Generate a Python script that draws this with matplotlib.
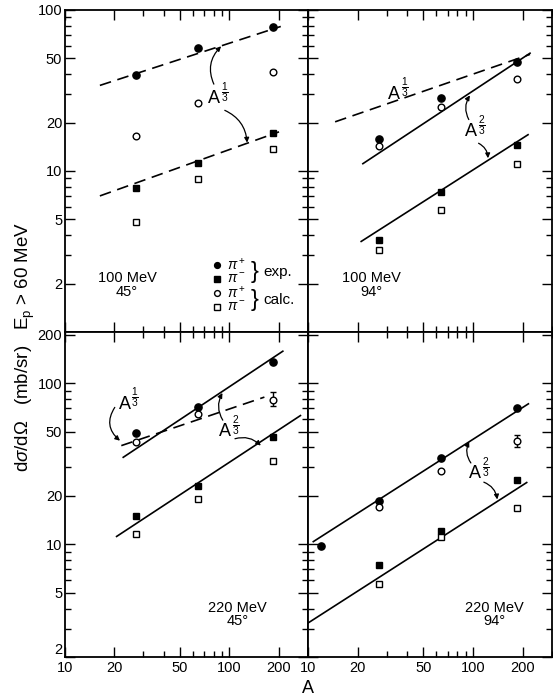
import numpy as np
import matplotlib
matplotlib.use("Agg")
import matplotlib.pyplot as plt
from matplotlib.ticker import FixedLocator, NullFormatter, FixedFormatter

plt.rcParams['font.family'] = ['Liberation Sans', 'DejaVu Sans']
plt.rcParams['mathtext.fontset'] = 'custom'
plt.rcParams['mathtext.rm'] = 'Liberation Sans'
plt.rcParams['mathtext.it'] = 'Liberation Sans:italic'

# masy jader tarczy
A_TGT = [27, 64, 184]
A_TGT_C = [12, 27, 64, 184]

# 100 MeV, 45 st.
p1_pip_exp = [39.3, 57.9, 78.0]
p1_pim_exp = [7.8, 11.2, 17.3]
p1_pip_calc = [16.5, 26.6, 41.0]
p1_pim_calc = [4.8, 8.9, 13.7]

# 100 MeV, 94 st.
p2_pip_exp = [15.8, 28.2, 47.3]
p2_pim_exp = [3.7, 7.4, 14.5]
p2_pip_calc = [14.3, 25.1, 37.0]
p2_pim_calc = [3.25, 5.7, 11.1]

# 220 MeV, 45 st.
p3_pip_exp = [48.9, 71.4, 135.0]
p3_pim_exp = [15.1, 23.0, 46.4]
p3_pip_calc = [42.9, 64.4, 78.4]
p3_pim_calc = [11.6, 19.1, 33.0]
p3_calc_err_lo = [0, 0, 6.0]
p3_calc_err_hi = [0, 0, 9.6]

# 220 MeV, 94 st. (pierwszy punkt dla C, tylko exp.)
p4_pip_exp = [9.8, 18.5, 34.5, 69.7]
p4_pim_exp = [7.4, 12.1, 25.0]
p4_pip_calc = [17.1, 28.7, 43.7]
p4_pim_calc = [5.7, 11.1, 16.9]
p4_calc_err_lo = [0, 0, 3.7]
p4_calc_err_hi = [0, 0, 3.8]

# linie dopasowania (A, sigma) na koncach
l1_up_A, l1_up_y = [16.3, 205], [34.0, 79.0]
l1_lo_A, l1_lo_y = [16.3, 200], [7.0, 17.5]
l2_dash_A, l2_dash_y = [14.6, 221], [20.2, 53.0]
l2_up_A, l2_up_y = [21.5, 221], [11.1, 53.9]
l2_lo_A, l2_lo_y = [21.0, 215], [3.65, 16.8]
l3_up_A, l3_up_y = [22.6, 211], [34.7, 158.0]
l3_dash_A, l3_dash_y = [22.0, 163], [41.0, 82.0]
l3_lo_A, l3_lo_y = [20.6, 270], [11.2, 63.0]
l4_up_A, l4_up_y = [10.77, 216], [10.4, 74.5]
l4_lo_A, l4_lo_y = [10.0, 211], [3.25, 24.2]

X_TICKS = [10, 20, 50, 100, 200]
X_MINOR = [30, 40, 60, 70, 80, 90, 300]

fig = plt.figure(figsize=(5.53, 6.98), dpi=100)
ax1 = fig.add_axes([0.1175, 0.5244, 0.4394, 0.4613])
ax2 = fig.add_axes([0.5569, 0.5244, 0.4412, 0.4613])
ax3 = fig.add_axes([0.1175, 0.0587, 0.4394, 0.4657])
ax4 = fig.add_axes([0.5569, 0.0587, 0.4412, 0.4657])

ms_f = 5.2
ms_o = 4.8


def draw_points(ax, pip_e, pim_e, pip_c, pim_c, A_pip=A_TGT, err=None):
    ax.plot(A_pip, pip_e, 'o', color='black', ms=ms_f, zorder=4)
    ax.plot(A_TGT, pim_e, 's', color='black', ms=ms_f - 0.6, zorder=4)
    if err is None:
        ax.plot(A_TGT, pip_c, 'o', mfc='white', mec='black', mew=1.0, ms=ms_o, zorder=5)
    else:
        ax.errorbar(A_TGT, pip_c, yerr=err, fmt='o', mfc='white', mec='black',
                    ecolor='black', mew=1.0, ms=ms_o, elinewidth=1.0, capsize=2.5, zorder=5)
    ax.plot(A_TGT, pim_c, 's', mfc='white', mec='black', mew=1.0, ms=ms_o - 0.4, zorder=5)


def setup(ax, ylim, yticks, ymin, show_x, show_y):
    ax.set_xscale('log')
    ax.set_yscale('log')
    ax.set_xlim(10, 300)
    ax.set_ylim(*ylim)
    ax.xaxis.set_major_locator(FixedLocator(X_TICKS))
    ax.xaxis.set_minor_locator(FixedLocator(X_MINOR))
    ax.yaxis.set_major_locator(FixedLocator(yticks))
    ax.yaxis.set_minor_locator(FixedLocator(ymin))
    ax.xaxis.set_minor_formatter(NullFormatter())
    ax.yaxis.set_minor_formatter(NullFormatter())
    if show_x:
        ax.xaxis.set_major_formatter(FixedFormatter([str(t) for t in X_TICKS]))
    else:
        ax.xaxis.set_major_formatter(NullFormatter())
    if show_y:
        ax.yaxis.set_major_formatter(FixedFormatter([str(t) for t in yticks]))
    else:
        ax.yaxis.set_major_formatter(NullFormatter())
    ax.tick_params(which='both', direction='in', top=True, right=True,
                   labelsize=10.5, width=1.0)
    ax.tick_params(axis='x', pad=3)
    ax.tick_params(axis='y', pad=2)
    ax.tick_params(which='major', length=7)
    ax.tick_params(which='minor', length=4)
    for s in ax.spines.values():
        s.set_linewidth(1.3)


def a_power(ax, x, y, num):
    # "A" z ulamkiem 1/3 lub 2/3 jako wykladnik
    ax.text(x, y, 'A', fontsize=13, ha='center', va='center')
    ax.annotate(r'$\frac{%d}{3}$' % num, xy=(x, y), xytext=(5, 4.5),
                textcoords='offset points', fontsize=10.5, ha='left', va='center')


top_ticks = [2, 5, 10, 20, 50, 100]
top_minor = [3, 4, 6, 7, 8, 9, 30, 40, 60, 70, 80, 90]
bot_ticks = [2, 5, 10, 20, 50, 100, 200]
bot_minor = [3, 4, 6, 7, 8, 9, 30, 40, 60, 70, 80, 90]

setup(ax1, (1, 100), top_ticks, top_minor, False, True)
setup(ax2, (1, 100), top_ticks, top_minor, False, False)
setup(ax3, (2, 208), bot_ticks, bot_minor, True, True)
setup(ax4, (2, 208), bot_ticks, bot_minor, True, False)

# dolna "2" troche wyzej, zeby nie wchodzila na "10"
for lab in ax3.get_yticklabels():
    if lab.get_text() == '2':
        lab.set_va('bottom')

dash = dict(color='black', lw=1.2, ls=(0, (7, 4)))
solid = dict(color='black', lw=1.2)
arr = dict(arrowstyle='-|>', color='black', lw=0.9, mutation_scale=7, shrinkA=1, shrinkB=0)
tfs = 10.5

# panel 1
ax1.plot(l1_up_A, l1_up_y, **dash)
ax1.plot(l1_lo_A, l1_lo_y, **dash)
draw_points(ax1, p1_pip_exp, p1_pim_exp, p1_pip_calc, p1_pim_calc)
a_power(ax1, 81, 28, 1)
ax1.annotate('', xy=(89, 59.5), xytext=(81, 34),
             arrowprops=dict(arr, connectionstyle='arc3,rad=-0.35'))
ax1.annotate('', xy=(128, 15.0), xytext=(92, 24),
             arrowprops=dict(arr, connectionstyle='arc3,rad=-0.3'))
ax1.text(0.255, 0.146, '100 MeV\n45°', transform=ax1.transAxes, fontsize=tfs,
         ha='center', va='center', linespacing=0.95)

# legenda
leg_x = 0.625
leg_rows_y = [0.208, 0.165, 0.121, 0.078]
rows = [('o', 'black', r'$\pi^+$'), ('s', 'black', r'$\pi^-$'),
        ('o', 'white', r'$\pi^+$'), ('s', 'white', r'$\pi^-$')]
for (m, fc, lab), yy in zip(rows, leg_rows_y):
    ax1.plot([leg_x], [yy], m, transform=ax1.transAxes, mfc=fc, mec='black',
             mew=1.0, ms=4.2 if m == 'o' else 3.8, clip_on=False)
    ax1.text(leg_x + 0.04, yy, lab, transform=ax1.transAxes, fontsize=10,
             ha='left', va='center')
for word, yb in zip(['exp.', 'calc.'], [0.186, 0.099]):
    ax1.text(0.765, yb, '}', transform=ax1.transAxes, fontsize=17,
             ha='left', va='center')
    ax1.text(0.815, yb, word, transform=ax1.transAxes, fontsize=11,
             ha='left', va='center')

# panel 2
ax2.plot(l2_dash_A, l2_dash_y, **dash)
ax2.plot(l2_up_A, l2_up_y, **solid)
ax2.plot(l2_lo_A, l2_lo_y, **solid)
draw_points(ax2, p2_pip_exp, p2_pim_exp, p2_pip_calc, p2_pim_calc)
a_power(ax2, 33, 30, 1)
a_power(ax2, 97, 17.5, 2)
ax2.annotate('', xy=(95.6, 29.5), xytext=(95, 20.5),
             arrowprops=dict(arr, connectionstyle='arc3,rad=-0.3'))
ax2.annotate('', xy=(123, 12.0), xytext=(106, 15.0),
             arrowprops=dict(arr, connectionstyle='arc3,rad=-0.3'))
ax2.text(0.262, 0.146, '100 MeV\n94°', transform=ax2.transAxes, fontsize=tfs,
         ha='center', va='center', linespacing=0.95)

# panel 3
ax3.plot(l3_up_A, l3_up_y, **solid)
ax3.plot(l3_dash_A, l3_dash_y, **dash)
ax3.plot(l3_lo_A, l3_lo_y, **solid)
draw_points(ax3, p3_pip_exp, p3_pim_exp, p3_pip_calc, p3_pim_calc,
            err=[p3_calc_err_lo, p3_calc_err_hi])
a_power(ax3, 23, 74, 1)
ax3.annotate('', xy=(21.6, 44.0), xytext=(20.3, 72),
             arrowprops=dict(arr, connectionstyle='arc3,rad=0.45'))
a_power(ax3, 94, 50, 2)
ax3.annotate('', xy=(90.6, 87), xytext=(92, 58),
             arrowprops=dict(arr, connectionstyle='arc3,rad=-0.3'))
ax3.annotate('', xy=(155, 41), xytext=(106, 45),
             arrowprops=dict(arr, connectionstyle='arc3,rad=-0.3'))
ax3.text(0.71, 0.13, '220 MeV\n45°', transform=ax3.transAxes, fontsize=tfs,
         ha='center', va='center', linespacing=0.95)

# panel 4
ax4.plot(l4_up_A, l4_up_y, **solid)
ax4.plot(l4_lo_A, l4_lo_y, **solid)
draw_points(ax4, p4_pip_exp, p4_pim_exp, p4_pip_calc, p4_pim_calc, A_pip=A_TGT_C,
            err=[p4_calc_err_lo, p4_calc_err_hi])
a_power(ax4, 103, 27.5, 2)
ax4.annotate('', xy=(94.6, 43.5), xytext=(98, 31.5),
             arrowprops=dict(arr, connectionstyle='arc3,rad=-0.3'))
ax4.annotate('', xy=(140, 19.0), xytext=(114, 24.5),
             arrowprops=dict(arr, connectionstyle='arc3,rad=-0.3'))
ax4.text(0.766, 0.13, '220 MeV\n94°', transform=ax4.transAxes, fontsize=tfs,
         ha='center', va='center', linespacing=0.95)

fig.text(0.046, 0.503, r'd$\sigma$/d$\Omega$   (mb/sr)   E$_\mathrm{p}$ > 60 MeV',
         rotation=90, ha='center', va='center', fontsize=13.5)
fig.text(0.557, 0.013, 'A', ha='center', va='center', fontsize=13)

fig.savefig('out.png', dpi=100)
